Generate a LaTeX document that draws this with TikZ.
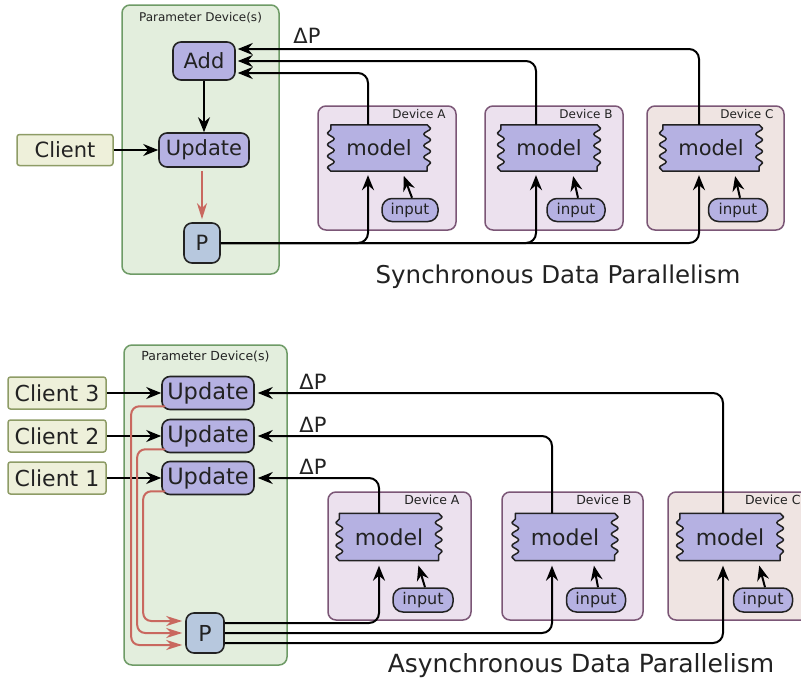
\documentclass[tikz,border=0pt]{standalone}
\usepackage{fontspec}
\setmainfont{DejaVu Sans}
\usetikzlibrary{arrows.meta,decorations.pathmorphing,calc}
\pgfdeclarelayer{bg}\pgfdeclarelayer{mid}
\pgfsetlayers{bg,mid,main}

\definecolor{pdfill}{HTML}{E3EEDD}
\definecolor{pdline}{HTML}{6E9B66}
\definecolor{clfill}{HTML}{EEF0DA}
\definecolor{clline}{HTML}{8E9C66}
\definecolor{lav}{HTML}{B5B1E2}
\definecolor{pfill}{HTML}{B7C8DE}
\definecolor{devfill}{HTML}{ECE1EE}
\definecolor{devfillc}{HTML}{EFE4E2}
\definecolor{devline}{HTML}{7B5676}
\definecolor{redline}{HTML}{C9685F}
\definecolor{ink}{HTML}{222222}

\newcommand{\fs}[1]{\fontsize{#1}{#1}\selectfont}
\newcommand{\wavy}[1]{\begin{pgfonlayer}{mid}\draw[draw=ink, fill=lav, line width=1.5pt, line join=round, decoration={snake,segment length=11.5pt,amplitude=3.4pt}] (#1.north west) -- (#1.north east) decorate{-- (#1.south east)} -- (#1.south west) decorate{-- (#1.north west)} -- cycle;\end{pgfonlayer}}

\begin{document}
\begin{tikzpicture}[x=1pt,y=-1pt,
 every node/.style={inner sep=0pt, text=ink},
 pdbox/.style={draw=pdline, fill=pdfill, line width=1.5pt, rounded corners=8pt},
 devbox/.style={draw=devline, fill=devfill, line width=1.5pt, rounded corners=8pt},
 clbox/.style={draw=clline, fill=clfill, line width=1.5pt, rounded corners=2.5pt},
 opbox/.style={draw=ink, fill=lav, line width=1.6pt, rounded corners=8pt},
 pbox/.style={draw=ink, fill=pfill, line width=1.6pt, rounded corners=8pt},
 inbox/.style={draw=ink, fill=lav, line width=1.5pt, rounded corners=10pt},
 modelbox/.style={minimum width=96pt, minimum height=46pt},
 arr/.style={draw=black, line width=2pt, -{Stealth[length=15pt,width=12pt,inset=5pt]}},
 redarr/.style={draw=redline, line width=2pt, -{Stealth[length=16pt,width=10pt,inset=5pt]}},
 ]
\useasboundingbox (0,0) rectangle (801,683);
\begin{pgfonlayer}{bg}
\fill[white] (0,0) rectangle (801,683);
% top half containers
\node[pdbox, minimum width=157pt, minimum height=269pt] (pd1) at (200.5,139.5) {};
\node[devbox, minimum width=138pt, minimum height=124pt] (devA) at (387,168) {};
\node[devbox, minimum width=138pt, minimum height=124pt] (devB) at (554,168) {};
\node[devbox, fill=devfillc, minimum width=137pt, minimum height=124pt] (devC) at (715.5,168) {};
% bottom half containers
\node[pdbox, minimum width=163pt, minimum height=320pt] (pd2) at (205.5,505) {};
\node[devbox, minimum width=143pt, minimum height=128pt] (devA2) at (399.5,556) {};
\node[devbox, minimum width=141pt, minimum height=128pt] (devB2) at (572.5,556) {};
\node[devbox, fill=devfillc, minimum width=147pt, minimum height=128pt] (devC2) at (741.5,556) {};
\end{pgfonlayer}

% ---------- top: synchronous ----------
\node[font=\fs{12}] (pdl1) at ([yshift=-13pt]pd1.north) {Parameter Device(s)};
\node[font=\fs{12}, anchor=east] (dla) at ([xshift=-11pt,yshift=-9pt]devA.north east) {Device A};
\node[font=\fs{12}, anchor=east] (dlb) at ([xshift=-11pt,yshift=-9pt]devB.north east) {Device B};
\node[font=\fs{12}, anchor=east] (dlc) at ([xshift=-11pt,yshift=-9pt]devC.north east) {Device C};

\node[opbox, font=\fs{21}, minimum width=62pt, minimum height=38pt] (add) at (204,61) {Add};
\node[opbox, font=\fs{21}, minimum width=90pt, minimum height=34pt] (upd) at (204,150) {Update};
\node[clbox, font=\fs{21}, minimum width=96pt, minimum height=31pt] (client) at (65,150) {Client};
\node[pbox, font=\fs{21}, minimum width=36pt, minimum height=40pt] (p1) at (202,243) {P};

\node[modelbox] (modelA) at (379,148) {};
\node[modelbox] (modelB) at (549,148) {};
\node[modelbox] (modelC) at (711,148) {};
\wavy{modelA}\wavy{modelB}\wavy{modelC}
\node[font=\fs{21}] at (modelA) {model};
\node[font=\fs{21}] at (modelB) {model};
\node[font=\fs{21}] at (modelC) {model};

\node[inbox, font=\fs{15}, minimum width=56pt, minimum height=23pt] (inA) at (410,210) {input};
\node[inbox, font=\fs{15}, minimum width=58pt, minimum height=23pt] (inB) at (576,210) {input};
\node[inbox, font=\fs{15}, minimum width=59pt, minimum height=23pt] (inC) at (738,210) {input};

\node[font=\fs{21}] (dp1) at (307,36) {ΔP};
\node[font=\fs{24.5}] (t1) at (558,277) {Synchronous Data Parallelism};

\draw[arr] (add.south) -- (upd.north);
\draw[arr] (client.east) -- (upd.west);
\draw[redarr, shorten <=3pt, shorten >=3pt] ([xshift=-2pt]upd.south) -- (p1.north);

\draw[arr, rounded corners=10pt] (p1.east) -| ([xshift=-11pt,yshift=-4pt]modelA.south);
\draw[arr, rounded corners=10pt] (p1.east) -| ([xshift=-13pt,yshift=-4pt]modelB.south);
\draw[arr, rounded corners=10pt] (p1.east) -| ([xshift=-12pt,yshift=-4pt]modelC.south);

\draw[arr, rounded corners=10pt, shorten >=2pt] ([xshift=-11pt]modelA.north) |- ([yshift=-12pt]add.east);
\draw[arr, rounded corners=10pt, shorten >=2pt] ([xshift=-13pt]modelB.north) |- (add.east);
\draw[arr, rounded corners=10pt, shorten >=2pt] ([xshift=-12pt]modelC.north) |- ([yshift=12pt]add.east);

\draw[arr, shorten >=5pt] ([xshift=2pt]inA.north) -- ([xshift=23pt]modelA.south);
\draw[arr, shorten >=5pt] ([xshift=2pt]inB.north) -- ([xshift=23pt]modelB.south);
\draw[arr, shorten >=5pt] ([xshift=2pt]inC.north) -- ([xshift=23pt]modelC.south);

% ---------- bottom: asynchronous ----------
\node[font=\fs{12.5}] (pdl2) at ([yshift=-12pt]pd2.north) {Parameter Device(s)};
\node[font=\fs{12.5}, anchor=east] (dla2) at ([xshift=-12pt,yshift=-9pt]devA2.north east) {Device A};
\node[font=\fs{12.5}, anchor=east] (dlb2) at ([xshift=-12pt,yshift=-9pt]devB2.north east) {Device B};
\node[font=\fs{12.5}, anchor=east] (dlc2) at ([xshift=-15pt,yshift=-9pt]devC2.north east) {Device C};

\node[opbox, font=\fs{22.5}, minimum width=92pt, minimum height=33pt] (upd3) at (208,393) {Update};
\node[opbox, font=\fs{22.5}, minimum width=92pt, minimum height=33pt] (upd2) at (208,436) {Update};
\node[opbox, font=\fs{22.5}, minimum width=92pt, minimum height=33pt] (upd1) at (208,478) {Update};
\node[clbox, font=\fs{22}, minimum width=98pt, minimum height=32pt] (cl3) at (57,393) {Client 3};
\node[clbox, font=\fs{22}, minimum width=98pt, minimum height=32pt] (cl2) at (57,436) {Client 2};
\node[clbox, font=\fs{22}, minimum width=98pt, minimum height=32pt] (cl1) at (57,478) {Client 1};
\node[pbox, font=\fs{22}, minimum width=38pt, minimum height=40pt] (p2) at (205,633) {P};

\node[modelbox, minimum width=99pt, minimum height=47pt] (modelA2) at (389,537) {};
\node[modelbox, minimum width=99pt, minimum height=47pt] (modelB2) at (565,537) {};
\node[modelbox, minimum width=100pt, minimum height=47pt] (modelC2) at (730,537) {};
\wavy{modelA2}\wavy{modelB2}\wavy{modelC2}
\node[font=\fs{22}] at (modelA2) {model};
\node[font=\fs{22}] at (modelB2) {model};
\node[font=\fs{22}] at (modelC2) {model};

\node[inbox, font=\fs{16}, minimum width=60pt, minimum height=24pt] (inA2) at (423,600) {input};
\node[inbox, font=\fs{16}, minimum width=59pt, minimum height=24pt] (inB2) at (596,600) {input};
\node[inbox, font=\fs{16}, minimum width=59pt, minimum height=24pt] (inC2) at (763,600) {input};

\node[font=\fs{21}] (dp3) at (313,382) {ΔP};
\node[font=\fs{21}] (dp2) at (313,425) {ΔP};
\node[font=\fs{21}] (dp1b) at (313,467) {ΔP};
\node[font=\fs{25}] (t2) at (581,666) {Asynchronous Data Parallelism};

\draw[arr] (cl3) -- (upd3);
\draw[arr] (cl2) -- (upd2);
\draw[arr] (cl1) -- (upd1);

\draw[redarr, rounded corners=8pt, shorten >=3pt] ([xshift=4pt,yshift=4pt]upd3.south west) -| ([xshift=-54pt,yshift=-12pt]p2.west) -- ([yshift=-12pt]p2.west);
\draw[redarr, rounded corners=8pt, shorten >=3pt] ([xshift=4pt,yshift=4pt]upd2.south west) -| ([xshift=-48pt]p2.west) -- (p2.west);
\draw[redarr, rounded corners=8pt, shorten >=3pt] ([xshift=4pt,yshift=4pt]upd1.south west) -| ([xshift=-42pt,yshift=12pt]p2.west) -- ([yshift=12pt]p2.west);

\draw[arr, rounded corners=10pt, shorten >=3pt] ([xshift=-10pt]modelA2.north) |- (upd1.east);
\draw[arr, rounded corners=10pt, shorten >=3pt] ([xshift=-13pt]modelB2.north) |- (upd2.east);
\draw[arr, rounded corners=10pt, shorten >=3pt] ([xshift=-7pt]modelC2.north) |- (upd3.east);

\draw[arr, rounded corners=10pt] ([yshift=10pt]p2.east) -| ([xshift=-10pt,yshift=-5pt]modelA2.south);
\draw[arr, rounded corners=10pt] (p2.east) -| ([xshift=-13pt,yshift=-5pt]modelB2.south);
\draw[arr, rounded corners=10pt] ([yshift=-10pt]p2.east) -| ([xshift=-7pt,yshift=-5pt]modelC2.south);

\draw[arr, shorten >=5pt] ([xshift=2pt]inA2.north) -- ([xshift=28pt]modelA2.south);
\draw[arr, shorten >=5pt] ([xshift=2pt]inB2.north) -- ([xshift=28pt]modelB2.south);
\draw[arr, shorten >=5pt] ([xshift=2pt]inC2.north) -- ([xshift=28pt]modelC2.south);
\end{tikzpicture}
\end{document}
